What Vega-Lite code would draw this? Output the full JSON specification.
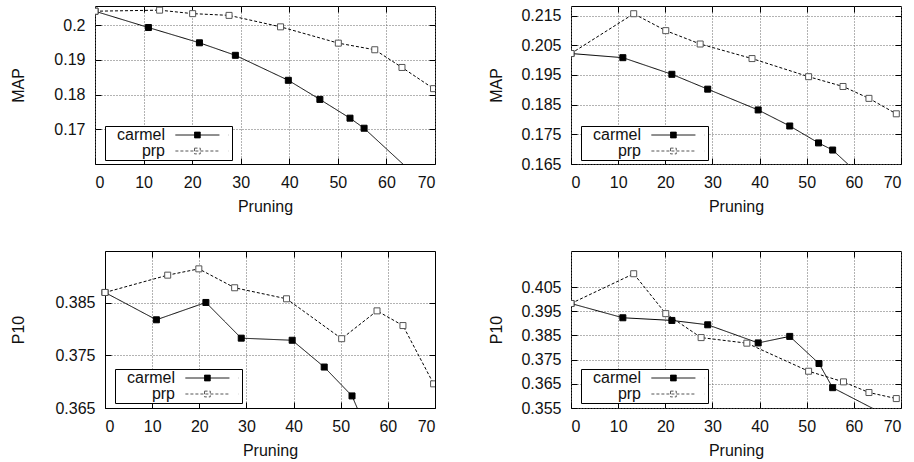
{
  "$schema": "https://vega.github.io/schema/vega-lite/v6.json",
  "autosize": {"type": "pad"},
  "padding": {"left": 9, "top": 5, "right": 0, "bottom": 0},
  "background": "white",
  "datasets": {
    "p1": [
      {"series": "carmel", "x": 0, "y": 0.2040}, {"series": "carmel", "x": 11.0, "y": 0.1993}, {"series": "carmel", "x": 21.5, "y": 0.1949},
      {"series": "carmel", "x": 28.9, "y": 0.1913}, {"series": "carmel", "x": 39.8, "y": 0.1841}, {"series": "carmel", "x": 46.3, "y": 0.1786},
      {"series": "carmel", "x": 52.5, "y": 0.1732}, {"series": "carmel", "x": 55.4, "y": 0.1703}, {"series": "carmel", "x": 69.5, "y": 0.1521},
      {"series": "prp", "x": 0, "y": 0.2040}, {"series": "prp", "x": 13.3, "y": 0.2043}, {"series": "prp", "x": 20.1, "y": 0.2033},
      {"series": "prp", "x": 27.6, "y": 0.2028}, {"series": "prp", "x": 38.2, "y": 0.1995}, {"series": "prp", "x": 50.1, "y": 0.1948},
      {"series": "prp", "x": 57.6, "y": 0.1929}, {"series": "prp", "x": 63.2, "y": 0.1878}, {"series": "prp", "x": 69.7, "y": 0.1817}
    ],
    "p2": [
      {"series": "carmel", "x": 0, "y": 0.2022}, {"series": "carmel", "x": 11.0, "y": 0.2008}, {"series": "carmel", "x": 21.4, "y": 0.1952},
      {"series": "carmel", "x": 29.0, "y": 0.1902}, {"series": "carmel", "x": 39.7, "y": 0.1832}, {"series": "carmel", "x": 46.4, "y": 0.1778},
      {"series": "carmel", "x": 52.5, "y": 0.1721}, {"series": "carmel", "x": 55.5, "y": 0.1697}, {"series": "carmel", "x": 69.0, "y": 0.1499},
      {"series": "prp", "x": 0, "y": 0.2022}, {"series": "prp", "x": 13.3, "y": 0.2156}, {"series": "prp", "x": 20.1, "y": 0.2099},
      {"series": "prp", "x": 27.4, "y": 0.2054}, {"series": "prp", "x": 38.4, "y": 0.2005}, {"series": "prp", "x": 50.4, "y": 0.1944},
      {"series": "prp", "x": 57.7, "y": 0.1911}, {"series": "prp", "x": 63.2, "y": 0.1871}, {"series": "prp", "x": 69.0, "y": 0.1819}
    ],
    "p3": [
      {"series": "carmel", "x": 0, "y": 0.3870}, {"series": "carmel", "x": 10.9, "y": 0.3818}, {"series": "carmel", "x": 21.4, "y": 0.3851},
      {"series": "carmel", "x": 28.9, "y": 0.3783}, {"series": "carmel", "x": 39.7, "y": 0.3779}, {"series": "carmel", "x": 46.5, "y": 0.3728},
      {"series": "carmel", "x": 52.4, "y": 0.3673}, {"series": "carmel", "x": 55.5, "y": 0.3608},
      {"series": "prp", "x": 0, "y": 0.3870}, {"series": "prp", "x": 13.3, "y": 0.3903}, {"series": "prp", "x": 19.9, "y": 0.3915},
      {"series": "prp", "x": 27.5, "y": 0.3879}, {"series": "prp", "x": 38.5, "y": 0.3858}, {"series": "prp", "x": 50.2, "y": 0.3782},
      {"series": "prp", "x": 57.7, "y": 0.3835}, {"series": "prp", "x": 63.2, "y": 0.3807}, {"series": "prp", "x": 69.7, "y": 0.3696}
    ],
    "p4": [
      {"series": "carmel", "x": 0, "y": 0.3982}, {"series": "carmel", "x": 11.0, "y": 0.3923}, {"series": "carmel", "x": 21.4, "y": 0.3912},
      {"series": "carmel", "x": 29.0, "y": 0.3894}, {"series": "carmel", "x": 39.7, "y": 0.3819}, {"series": "carmel", "x": 46.4, "y": 0.3846},
      {"series": "carmel", "x": 52.6, "y": 0.3734}, {"series": "carmel", "x": 55.5, "y": 0.3634}, {"series": "carmel", "x": 69.0, "y": 0.3498},
      {"series": "prp", "x": 0, "y": 0.3982}, {"series": "prp", "x": 13.3, "y": 0.4105}, {"series": "prp", "x": 20.1, "y": 0.3940},
      {"series": "prp", "x": 27.6, "y": 0.3841}, {"series": "prp", "x": 37.3, "y": 0.3818}, {"series": "prp", "x": 50.4, "y": 0.3702},
      {"series": "prp", "x": 57.8, "y": 0.3658}, {"series": "prp", "x": 63.2, "y": 0.3614}, {"series": "prp", "x": 69.0, "y": 0.3589}
    ]
  },
  "vconcat": [
    {
      "hconcat": [
        {
          "width": 340, "height": 158,
          "data": {"name": "p1"},
          "layer": [
            {"mark": {"type": "line", "clip": true, "strokeWidth": 1, "color": "#000"},
             "encoding": {
               "x": {"field": "x", "type": "quantitative", "title": "Pruning", "scale": {"domain": [0, 70], "nice": false, "zero": false},
                     "axis": {"values": [0, 10, 20, 30, 40, 50, 60, 70], "labelPadding": 16, "minExtent": 27, "maxExtent": 27, "titlePadding": 7}},
               "y": {"field": "y", "type": "quantitative", "title": "MAP", "scale": {"domain": [0.16, 0.2055], "nice": false, "zero": false},
                     "axis": {"values": [0.17, 0.18, 0.19, 0.2], "format": "~g", "labelPadding": 16, "minExtent": 43, "maxExtent": 43, "titlePadding": 26}},
               "strokeDash": {"field": "series", "type": "nominal", "scale": {"domain": ["carmel", "prp"], "range": [[1, 0], [3, 2]]},
                 "legend": {"title": null, "orient": "none", "legendX": 10, "legendY": 120}}}},
            {"mark": {"type": "point", "shape": "square", "clip": true, "filled": true, "size": 36, "opacity": 1, "strokeWidth": 1},
             "encoding": {
               "x": {"field": "x", "type": "quantitative", "scale": {"domain": [0, 70], "nice": false, "zero": false},
                     "axis": {"orient": "top", "values": [10, 20, 30, 40, 50, 60], "title": null, "labels": false, "grid": false, "minExtent": 0, "maxExtent": 0}},
               "y": {"field": "y", "type": "quantitative", "scale": {"domain": [0.16, 0.2055], "nice": false, "zero": false},
                     "axis": {"orient": "right", "values": [0.17, 0.18, 0.19, 0.2], "title": null, "labels": false, "grid": false, "minExtent": 0, "maxExtent": 0}},
               "fill": {"field": "series", "type": "nominal", "scale": {"domain": ["carmel", "prp"], "range": ["#000", "#fff"]}, "legend": null},
               "stroke": {"field": "series", "type": "nominal", "scale": {"domain": ["carmel", "prp"], "range": ["#000", "#555"]}, "legend": null}}}
          ],
          "resolve": {"axis": {"x": "independent", "y": "independent"}}
        },
        {
          "width": 330, "height": 158,
          "data": {"name": "p2"},
          "layer": [
            {"mark": {"type": "line", "clip": true, "strokeWidth": 1, "color": "#000"},
             "encoding": {
               "x": {"field": "x", "type": "quantitative", "title": "Pruning", "scale": {"domain": [0, 70], "nice": false, "zero": false},
                     "axis": {"values": [0, 10, 20, 30, 40, 50, 60, 70], "labelPadding": 16, "minExtent": 27, "maxExtent": 27, "titlePadding": 7}},
               "y": {"field": "y", "type": "quantitative", "title": "MAP", "scale": {"domain": [0.165, 0.2182], "nice": false, "zero": false},
                     "axis": {"values": [0.165, 0.175, 0.185, 0.195, 0.205, 0.215], "format": ".3f", "labelPadding": 16, "minExtent": 52, "maxExtent": 52, "titlePadding": 15}},
               "strokeDash": {"field": "series", "type": "nominal", "scale": {"domain": ["carmel", "prp"], "range": [[1, 0], [3, 2]]},
                 "legend": {"title": null, "orient": "none", "legendX": 10, "legendY": 120}}}},
            {"mark": {"type": "point", "shape": "square", "clip": true, "filled": true, "size": 36, "opacity": 1, "strokeWidth": 1},
             "encoding": {
               "x": {"field": "x", "type": "quantitative", "scale": {"domain": [0, 70], "nice": false, "zero": false},
                     "axis": {"orient": "top", "values": [10, 20, 30, 40, 50, 60], "title": null, "labels": false, "grid": false, "minExtent": 0, "maxExtent": 0}},
               "y": {"field": "y", "type": "quantitative", "scale": {"domain": [0.165, 0.2182], "nice": false, "zero": false},
                     "axis": {"orient": "right", "values": [0.175, 0.185, 0.195, 0.205, 0.215], "title": null, "labels": false, "grid": false, "minExtent": 0, "maxExtent": 0}},
               "fill": {"field": "series", "type": "nominal", "scale": {"domain": ["carmel", "prp"], "range": ["#000", "#fff"]}, "legend": null},
               "stroke": {"field": "series", "type": "nominal", "scale": {"domain": ["carmel", "prp"], "range": ["#000", "#555"]}, "legend": null}}}
          ],
          "resolve": {"axis": {"x": "independent", "y": "independent"}}
        }
      ],
      "spacing": 51,
      "resolve": {"scale": {"strokeDash": "independent", "fill": "independent", "stroke": "independent"}, "legend": {"strokeDash": "independent"}}
    },
    {
      "hconcat": [
        {
          "width": 340, "height": 157,
          "view": {"stroke": null},
          "data": {"name": "p3"},
          "layer": [
            {"mark": {"type": "line", "clip": true, "strokeWidth": 1, "color": "#000"},
             "encoding": {
               "x": {"field": "x", "type": "quantitative", "title": "Pruning", "scale": {"domain": [0, 70], "range": [10, 340], "nice": false, "zero": false},
                     "axis": {"values": [0, 10, 20, 30, 40, 50, 60, 70], "labelPadding": 16, "minExtent": 27, "maxExtent": 27, "titlePadding": 7,
                              "domain": true, "domainColor": "#000", "domainWidth": 1}},
               "y": {"field": "y", "type": "quantitative", "title": "P10", "scale": {"domain": [0.365, 0.3949], "nice": false, "zero": false},
                     "axis": {"values": [0.365, 0.375, 0.385], "format": ".3f", "labelPadding": 16, "minExtent": 52, "maxExtent": 52, "titlePadding": 27, "offset": -10,
                              "domain": true, "domainColor": "#000", "domainWidth": 1}},
               "strokeDash": {"field": "series", "type": "nominal", "scale": {"domain": ["carmel", "prp"], "range": [[1, 0], [3, 2]]},
                 "legend": {"title": null, "orient": "none", "legendX": 20, "legendY": 118}}}},
            {"mark": {"type": "point", "shape": "square", "clip": true, "filled": true, "size": 36, "opacity": 1, "strokeWidth": 1},
             "encoding": {
               "x": {"field": "x", "type": "quantitative", "scale": {"domain": [0, 70], "range": [10, 340], "nice": false, "zero": false},
                     "axis": {"orient": "top", "values": [10, 20, 30, 40, 50, 60], "title": null, "labels": false, "grid": false, "domain": true, "domainColor": "#000", "domainWidth": 1, "minExtent": 0, "maxExtent": 0}},
               "y": {"field": "y", "type": "quantitative", "scale": {"domain": [0.365, 0.3949], "nice": false, "zero": false},
                     "axis": {"orient": "right", "values": [0.375, 0.385], "title": null, "labels": false, "grid": false, "domain": true, "domainColor": "#000", "domainWidth": 1, "minExtent": 0, "maxExtent": 0}},
               "fill": {"field": "series", "type": "nominal", "scale": {"domain": ["carmel", "prp"], "range": ["#000", "#fff"]}, "legend": null},
               "stroke": {"field": "series", "type": "nominal", "scale": {"domain": ["carmel", "prp"], "range": ["#000", "#555"]}, "legend": null}}}
          ],
          "resolve": {"axis": {"x": "independent", "y": "independent"}}
        },
        {
          "width": 330, "height": 157,
          "data": {"name": "p4"},
          "layer": [
            {"mark": {"type": "line", "clip": true, "strokeWidth": 1, "color": "#000"},
             "encoding": {
               "x": {"field": "x", "type": "quantitative", "title": "Pruning", "scale": {"domain": [0, 70], "nice": false, "zero": false},
                     "axis": {"values": [0, 10, 20, 30, 40, 50, 60, 70], "labelPadding": 16, "minExtent": 27, "maxExtent": 27, "titlePadding": 7}},
               "y": {"field": "y", "type": "quantitative", "title": "P10", "scale": {"domain": [0.355, 0.4199], "nice": false, "zero": false},
                     "axis": {"values": [0.355, 0.365, 0.375, 0.385, 0.395, 0.405], "format": ".3f", "labelPadding": 16, "minExtent": 52, "maxExtent": 52, "titlePadding": 15}},
               "strokeDash": {"field": "series", "type": "nominal", "scale": {"domain": ["carmel", "prp"], "range": [[1, 0], [3, 2]]},
                 "legend": {"title": null, "orient": "none", "legendX": 10, "legendY": 118}}}},
            {"mark": {"type": "point", "shape": "square", "clip": true, "filled": true, "size": 36, "opacity": 1, "strokeWidth": 1},
             "encoding": {
               "x": {"field": "x", "type": "quantitative", "scale": {"domain": [0, 70], "nice": false, "zero": false},
                     "axis": {"orient": "top", "values": [10, 20, 30, 40, 50, 60], "title": null, "labels": false, "grid": false, "minExtent": 0, "maxExtent": 0}},
               "y": {"field": "y", "type": "quantitative", "scale": {"domain": [0.355, 0.4199], "nice": false, "zero": false},
                     "axis": {"orient": "right", "values": [0.365, 0.375, 0.385, 0.395, 0.405], "title": null, "labels": false, "grid": false, "minExtent": 0, "maxExtent": 0}},
               "fill": {"field": "series", "type": "nominal", "scale": {"domain": ["carmel", "prp"], "range": ["#000", "#fff"]}, "legend": null},
               "stroke": {"field": "series", "type": "nominal", "scale": {"domain": ["carmel", "prp"], "range": ["#000", "#555"]}, "legend": null}}}
          ],
          "resolve": {"axis": {"x": "independent", "y": "independent"}}
        }
      ],
      "spacing": 51,
      "resolve": {"scale": {"strokeDash": "independent", "fill": "independent", "stroke": "independent"}, "legend": {"strokeDash": "independent"}}
    }
  ],
  "spacing": 35,
  "resolve": {"scale": {"strokeDash": "independent", "fill": "independent", "stroke": "independent"}, "legend": {"strokeDash": "independent"}},
  "config": {
    "font": "Liberation Sans",
    "view": {"stroke": "#000", "strokeWidth": 1},
    "axis": {
      "labelFont": "Liberation Sans", "labelFontSize": 16, "labelColor": "#111",
      "titleFont": "Liberation Sans", "titleFontSize": 16, "titleFontWeight": "normal", "titleColor": "#111",
      "grid": true, "gridDash": [1, 2], "gridColor": "#666", "gridOpacity": 1, "gridWidth": 1,
      "ticks": true, "tickSize": -6, "tickColor": "#000", "tickWidth": 1,
      "domain": false, "labelPadding": 16
    },
    "legend": {
      "padding": 1, "fillColor": "#fff", "strokeColor": "#000", "cornerRadius": 0,
      "labelFont": "Liberation Sans", "labelFontSize": 16, "labelColor": "#111",
      "labelAlign": "right", "labelOffset": -40.4, "symbolOffset": 83.4,
      "symbolType": "M-5.5,0H5.5M-0.72,-0.72H0.72V0.72H-0.72ZM7.85,0H7.9", "symbolSize": 64, "symbolStrokeWidth": 1,
      "symbolStrokeColor": "#222", "rowPadding": -1
    }
  }
}
